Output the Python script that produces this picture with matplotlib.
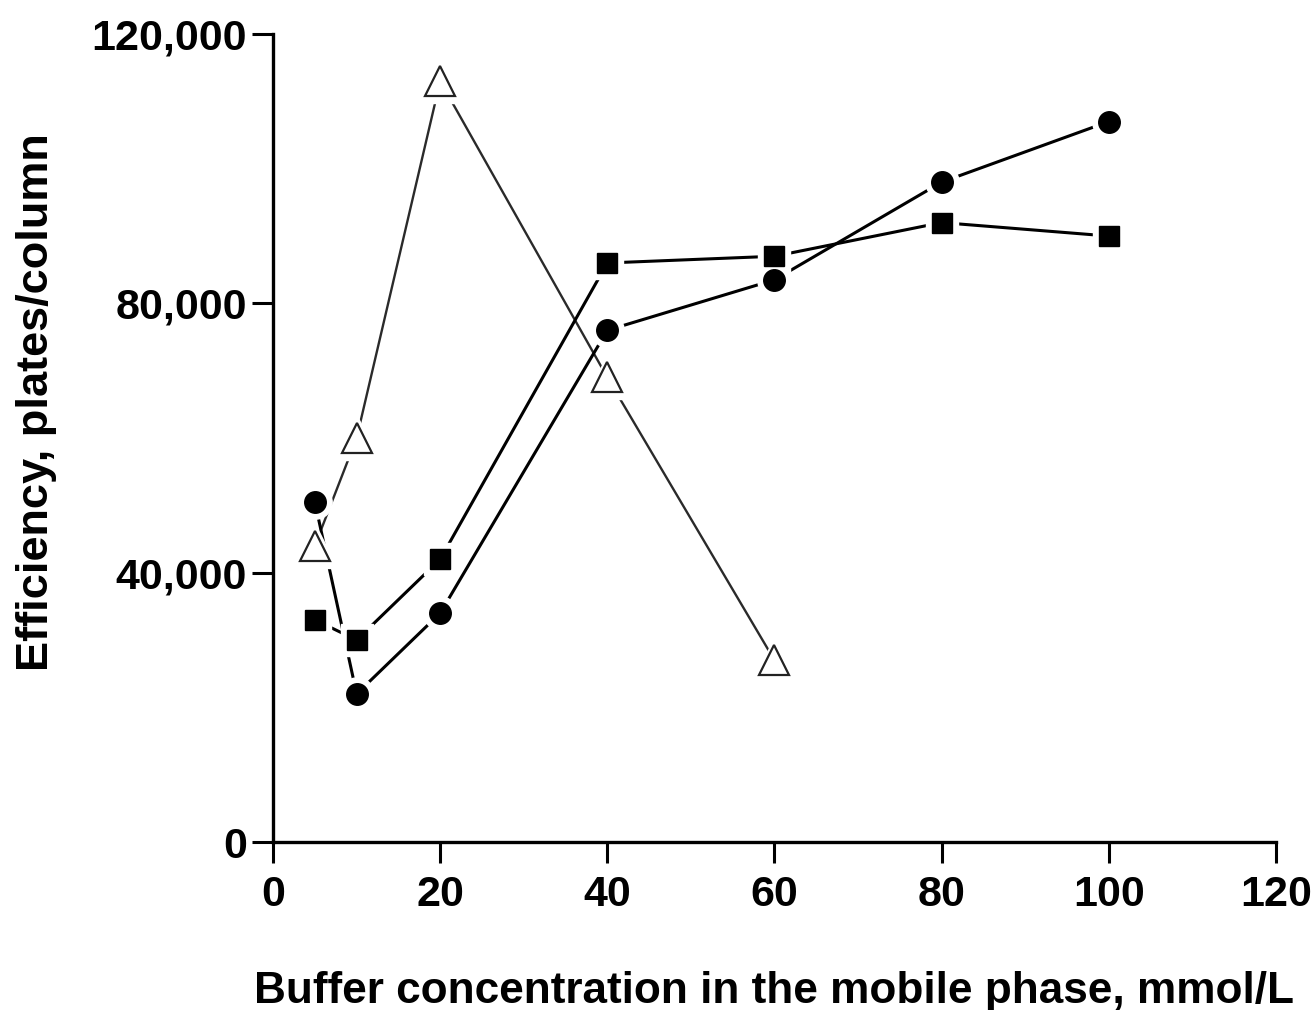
import matplotlib
matplotlib.use("Agg")
import matplotlib.pyplot as plt
from matplotlib.ticker import FuncFormatter

plt.rcParams['font.family'] = ['Liberation Sans', 'DejaVu Sans']
plt.rcParams['font.weight'] = 'bold'

# buffer concentration, mmol/L
conc = [5, 10, 20, 40, 60, 80, 100]
conc_tri = [5, 10, 20, 40, 60]

# efficiency, plates/column
eff_circle = [50500, 22000, 34000, 76000, 83500, 98000, 107000]
eff_square = [33000, 30000, 42000, 86000, 87000, 92000, 90000]
eff_triangle = [44000, 60000, 113000, 69000, 27000]

xticks = [0, 20, 40, 60, 80, 100, 120]
yticks = [0, 40000, 80000, 120000]

fig = plt.figure(figsize=(13.16, 10.10), dpi=100)
ax = fig.add_axes([0.2075, 0.1663, 0.762, 0.800])

# lines first, then a white halo under each marker so the lines stop short
ax.plot(conc_tri, eff_triangle, color='#2a2a2a', lw=1.7, zorder=1)
ax.plot(conc, eff_square, color='black', lw=2.2, zorder=1)
ax.plot(conc, eff_circle, color='black', lw=2.2, zorder=1)

ax.plot(conc_tri, eff_triangle, ls='none', marker='^', ms=31, mfc='white', mec='white', zorder=2)
ax.plot(conc, eff_square, ls='none', marker='s', ms=23, mfc='white', mec='white', zorder=2)
ax.plot(conc, eff_circle, ls='none', marker='o', ms=24, mfc='white', mec='white', zorder=2)

ax.plot(conc_tri, eff_triangle, ls='none', marker='^', ms=21, mfc='white', mec='#222222', mew=1.6, zorder=3)
ax.plot(conc, eff_square, ls='none', marker='s', ms=14.5, mfc='black', mec='black', zorder=3)
ax.plot(conc, eff_circle, ls='none', marker='o', ms=15.5, mfc='black', mec='black', zorder=3)

ax.set_xlim(0, 120)
ax.set_ylim(0, 120000)
ax.set_xticks(xticks)
ax.set_yticks(yticks)
ax.yaxis.set_major_formatter(FuncFormatter(lambda v, p: f"{int(v):,}"))

for side in ['top', 'right']:
    ax.spines[side].set_visible(False)
for side in ['left', 'bottom']:
    ax.spines[side].set_linewidth(2.4)
ax.tick_params(direction='out', length=15, width=2.2, labelsize=31)
ax.tick_params(axis='y', pad=4)
ax.tick_params(axis='x', pad=9)
for lbl in ax.get_xticklabels() + ax.get_yticklabels():
    lbl.set_fontweight('bold')

ax.set_xlabel('Buffer concentration in the mobile phase, mmol/L', fontsize=31.8, fontweight='bold', labelpad=40)
ax.set_ylabel('Efficiency, plates/column', fontsize=32.5, fontweight='bold')
ax.yaxis.set_label_coords(-0.215, 0.545)

fig.savefig('out.png', dpi=100)
